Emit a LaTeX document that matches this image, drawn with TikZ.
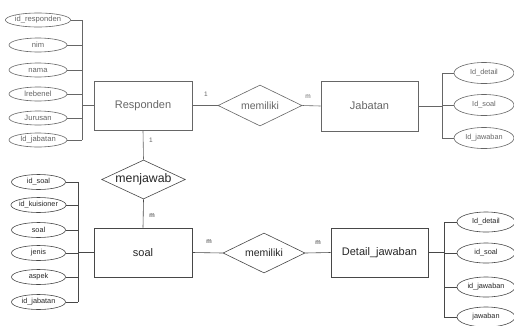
\documentclass[tikz,border=0pt]{standalone}
\usepackage{fontspec}
\setmainfont{Liberation Sans}
\usetikzlibrary{shapes.geometric}

\tikzset{
  every picture/.style={x=1pt,y=-1pt},
  % upper half (Responden / Jabatan) is drawn in grey
  upln/.style={draw=black!60, line width=0.6pt},
  uptx/.style={text=black!60},
  % lower half (soal / Detail_jawaban)
  loln/.style={draw=black!72, line width=0.6pt},
  lotx/.style={text=black!85},
  ent/.style={rectangle, minimum width=98pt, minimum height=49pt, inner sep=0pt,
              font=\fontsize{11}{13}\selectfont},
  rel/.style={diamond, aspect=2.2, inner sep=0pt, font=\fontsize{10.5}{12}\selectfont},
  attr/.style={ellipse, inner sep=0pt, font=\fontsize{7.3}{9}\selectfont},
  card/.style={inner sep=0pt, font=\fontsize{6.5}{8}\selectfont},
}

\begin{document}
\begin{tikzpicture}
\useasboundingbox (0,0) rectangle (514,325);
\fill[white] (0,0) rectangle (514,325);

% ---------- Responden and its attributes ----------
\node[ent, upln, uptx] (resp) at (143,105.5) {Responden};
\foreach \n/\y/\t in {r1/20/id\_responden, r2/45/nim, r3/70/nama,
                      r4/94/lrebenel, r5/118/Jurusan, r6/140/Id\_jabatan}
  \node[attr, upln, uptx, minimum width=58pt, minimum height=14pt,
        font=\fontsize{7.6}{9}\selectfont] (\n) at (38,\y) {\t};
\coordinate (busA) at (82,0);
\foreach \n in {r1,r2,r3,r4,r5,r6}
  \draw[upln] (\n.east) -- (\n.east -| busA);
\draw[upln] (r1.east -| busA) -- (r6.east -| busA);
\draw[upln] (busA |- resp.west) -- (resp.west);

% ---------- memiliki (Responden - Jabatan) ----------
\node[rel, upln, uptx, minimum width=84pt, minimum height=41pt] (mem1) at (260,105.5) {memiliki};
\node[ent, upln, uptx, minimum width=97pt, minimum height=50pt] (jab) at (369.5,106) {Jabatan};
\draw[upln] (resp.east) -- (mem1.west);
\draw[upln] (mem1.east) -- (jab.west);
\node[card, uptx] (c1) at (206,94) {1};
\node[card, uptx] (c2) at (308,97) {m};

% ---------- Jabatan attributes ----------
\foreach \n/\y/\t in {j1/73/Id\_detail, j2/105/Id\_soal, j3/138/Id\_jawaban}
  \node[attr, upln, uptx, minimum width=60pt, minimum height=21pt] (\n) at (484,\y) {\t};
\coordinate (busB) at (442,0);
\foreach \n in {j1,j2,j3}
  \draw[upln] (\n.west) -- (\n.west -| busB);
\draw[upln] (j1.west -| busB) -- (j3.west -| busB);
\draw[upln] (jab.east) -- (jab.east -| busB);

% ---------- menjawab (Responden - soal) ----------
\node[rel, loln, lotx, aspect=2.4, minimum width=81pt, minimum height=39pt,
      font=\fontsize{12.3}{14}\selectfont] (mj) at (143.5,179.5) {menjawab};
\draw[upln] (resp.south) -- (mj.north);
\node[card, uptx] (c3) at (151,140) {1};

\node[ent, loln, lotx] (soal) at (143,252.5) {soal};
\draw[loln] (mj.south) -- (soal.north);
\node[card, lotx] (c4) at (152,216) {m};

% ---------- soal attributes ----------
\foreach \n/\y/\t in {s1/182/id\_soal, s2/205/id\_kuisioner, s3/230/soal,
                      s4/253/jenis, s5/277/aspek, s6/302/id\_jabatan}
  \node[attr, loln, lotx, minimum width=54pt, minimum height=15pt] (\n) at (38.5,\y) {\t};
\coordinate (busC) at (78,0);
\foreach \n in {s1,s2,s3,s4,s5,s6}
  \draw[loln] (\n.east) -- (\n.east -| busC);
\draw[loln] (s1.east -| busC) -- (s6.east -| busC);
\draw[loln, line width=1.1pt] (busC |- soal.west) -- (soal.west);

% ---------- memiliki (soal - Detail_jawaban) ----------
\node[rel, loln, lotx, minimum width=82pt, minimum height=40pt] (mem2) at (264,253) {memiliki};
\node[ent, loln, lotx, minimum width=97pt] (det) at (379.5,252.5) {Detail\_jawaban};
\draw[loln] (soal.east) -- (mem2.west);
\draw[loln] (mem2.east) -- (det.west);
\node[card, lotx] (c5) at (209,242) {m};
\node[card, lotx] (c6) at (318,243) {m};

% ---------- Detail_jawaban attributes ----------
\foreach \n/\y/\t in {d1/222/Id\_detail, d2/253/id\_soal, d3/287/id\_jawaban, d4/317/jawaban}
  \node[attr, loln, lotx, minimum width=58pt, minimum height=20pt] (\n) at (486,\y) {\t};
\coordinate (busD) at (444,0);
\foreach \n in {d1,d2,d3,d4}
  \draw[loln] (\n.west) -- (\n.west -| busD);
\draw[loln] (d1.west -| busD) -- (d4.west -| busD);
\draw[loln, line width=1.1pt] (det.east) -- (det.east -| busD);
\end{tikzpicture}
\end{document}
